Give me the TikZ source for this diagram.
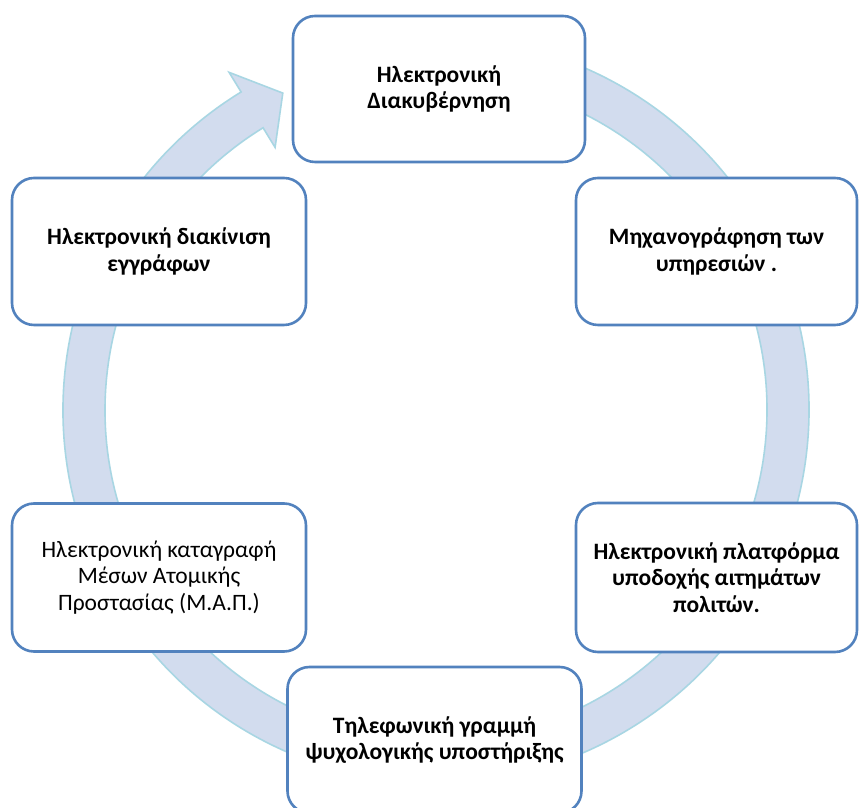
\documentclass[tikz,border=0pt]{standalone}
\usepackage{fontspec}
\setmainfont{Carlito}
\begin{document}
\begin{tikzpicture}[x=1pt,y=1pt,
  bandstyle/.style={fill=bandfill,draw=bandedge,line width=1.6pt,line join=miter},
  boxstyle/.style={draw=boxblue,fill=white,line width=2.6pt,rounded corners=22pt,
    align=center,inner sep=0pt,font=\fontsize{23.5}{26.5}\selectfont},
  boldbox/.style={boxstyle,font=\fontsize{23.5}{26.5}\selectfont\bfseries}]
\definecolor{bandfill}{HTML}{D2DCEE}
\definecolor{bandedge}{HTML}{A8D6E3}
\definecolor{boxblue}{HTML}{5282BE}
\clip (0,0) rectangle (859,808);
\fill[white] (0,0) rectangle (859,808);
% circular arrow band
\begin{scope}[shift={(436,398)}]
\draw[bandstyle] (121.5:373) arc[start angle=121.5,end angle=445,radius=373]
  -- (445:331) arc[start angle=445,end angle=121.5,radius=331]
  -- (121.5:308) -- (115.8:352) -- (121.5:396) -- cycle;
\end{scope}
% boxes
\node[boldbox,minimum width=292,minimum height=146] (top) at (439,719)
  {Ηλεκτρονική\\Διακυβέρνηση};
\node[boldbox,minimum width=281,minimum height=147] (ru) at (716.5,556.5)
  {Μηχανογράφηση των\\υπηρεσιών .};
\node[boldbox,minimum width=281,minimum height=149] (rl) at (716.5,230.5)
  {Ηλεκτρονική πλατφόρμα\\υποδοχής αιτημάτων\\πολιτών.};
\node[boldbox,minimum width=294,minimum height=146] (bot) at (434.5,68)
  {Τηλεφωνική γραμμή\\ψυχολογικής υποστήριξης};
\node[boxstyle,minimum width=294,minimum height=148] (ll) at (159,230.5)
  {Ηλεκτρονική καταγραφή\\Μέσων Ατομικής\\Προστασίας (Μ.Α.Π.)};
\node[boldbox,minimum width=294,minimum height=147] (lu) at (159,556.5)
  {Ηλεκτρονική διακίνιση\\εγγράφων};
\end{tikzpicture}
\end{document}
